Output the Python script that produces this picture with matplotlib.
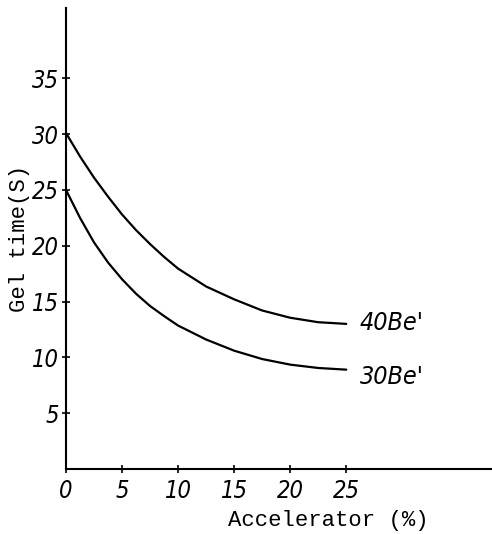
import matplotlib
matplotlib.use("Agg")
import matplotlib.pyplot as plt

# Data
accel = [0, 1.25, 2.5, 3.75, 5, 6.25, 7.5, 8.75, 10, 12.5, 15, 17.5, 20, 22.5, 25]
gel_40be = [30.1, 28.0, 26.1, 24.4, 22.8, 21.4, 20.15, 19.0, 17.95, 16.35, 15.2, 14.2, 13.55, 13.15, 13.0]
gel_30be = [25.0, 22.5, 20.3, 18.5, 17.0, 15.7, 14.6, 13.7, 12.85, 11.6, 10.6, 9.85, 9.35, 9.05, 8.9]
series_labels = ["40Be'", "30Be'"]
x_ticks = [0, 5, 10, 15, 20, 25]
y_ticks = [5, 10, 15, 20, 25, 30, 35]
x_label = "Accelerator (%)"
y_label = "Gel time(S)"

tick_family = ["DejaVu Sans"]
mono_font = dict(family=["Liberation Mono", "DejaVu Sans Mono"], size=16)

fig = plt.figure(figsize=(4.92, 5.34), dpi=100)
ax = fig.add_axes([66/492, 65/534, 426/492, 461/534])

ax.plot(accel, gel_40be, color="black", lw=1.6, solid_capstyle="round", solid_joinstyle="round")
ax.plot(accel, gel_30be, color="black", lw=1.6, solid_capstyle="round", solid_joinstyle="round")

for lbl, yy in zip(series_labels, [13.1, 8.2]):
    ax.text(26.2, yy, lbl, va="center", ha="left", family=tick_family,
            style="italic", stretch="condensed", size=18)

ax.set_xlim(0, 38)
ax.set_ylim(0, 41.3)
for s in ["top", "right"]:
    ax.spines[s].set_visible(False)
for s in ["left", "bottom"]:
    ax.spines[s].set_linewidth(1.5)
    ax.spines[s].set_color("black")

ax.set_xticks(x_ticks)
ax.set_xticklabels([str(v) for v in x_ticks])
ax.set_yticks(y_ticks)
ax.set_yticklabels([str(v) for v in y_ticks])
ax.tick_params(direction="inout", length=6, width=1.2, colors="black")
ax.tick_params(axis="y", pad=2)
ax.tick_params(axis="x", pad=4)
for lab in ax.get_xticklabels() + ax.get_yticklabels():
    lab.set_fontfamily(tick_family)
    lab.set_fontstyle("italic")
    lab.set_fontstretch("condensed")
    lab.set_fontsize(17)

ax.set_xlabel(x_label, va="center", **mono_font)
ax.xaxis.set_label_coords(0.615, -0.112)
ax.set_ylabel(y_label, va="center", **mono_font)
ax.yaxis.set_label_coords(-0.108, 0.5)

fig.savefig("out.png", dpi=100)
